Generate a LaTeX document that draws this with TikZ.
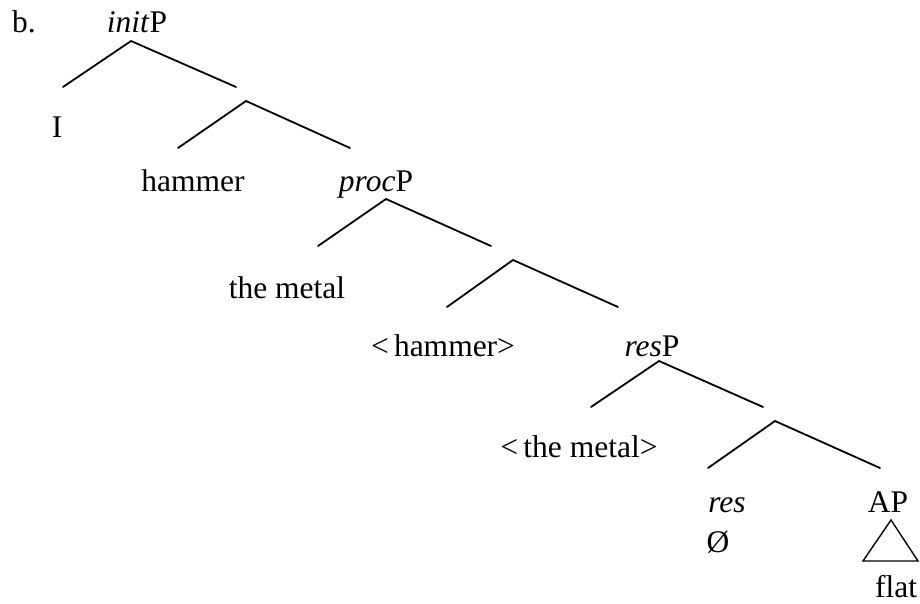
\documentclass[tikz,border=0pt]{standalone}
\usepackage{fontspec}
\setmainfont{Liberation Serif}
\begin{document}
\begin{tikzpicture}[x=1pt,y=-1pt,
  lbl/.style={anchor=base,inner sep=0pt,font=\fontsize{31.5}{36}\selectfont},
  br/.style={line width=1.8pt,line cap=round}]
\useasboundingbox (0,0) rectangle (920,604);
% labels
\node[lbl,anchor=base west] (b) at (12,33) {b.};
\node[lbl] (initP) at (137,33) {\textit{init}P};
\node[lbl] (I) at (57,138) {I};
\node[lbl] (hammer) at (193,192) {hammer};
\node[lbl] (procP) at (376,192) {\textit{proc}P};
\node[lbl] (metal) at (287,298) {the metal};
\node[lbl] (thammer) at (443,356) {<\thinspace hammer>};
\node[lbl] (resP) at (652,356) {\textit{res}P};
\node[lbl] (tmetal) at (579,457) {<\thinspace the metal>};
\node[lbl] (res) at (727,512) {\textit{res}};
\node[lbl] (AP) at (888,512) {AP};
\node[lbl] (null) at (718,552) {Ø};
\node[lbl] (flat) at (896,597) {flat};
% tree coordinates
\coordinate (a1) at (131,41);  \coordinate (l1) at (63,87);  \coordinate (r1) at (236,87);
\coordinate (a2) at (246,101); \coordinate (l2) at (178,148); \coordinate (r2) at (350,148);
\coordinate (a3) at (386,199); \coordinate (l3) at (318,246); \coordinate (r3) at (491,246);
\coordinate (a4) at (513,260); \coordinate (l4) at (447,307); \coordinate (r4) at (618,307);
\coordinate (a5) at (659,361); \coordinate (l5) at (591,407); \coordinate (r5) at (763,407);
\coordinate (a6) at (775,421); \coordinate (l6) at (708,468); \coordinate (r6) at (880,468);
\coordinate (t1) at (891,520); \coordinate (t2) at (863,561); \coordinate (t3) at (918,561);
\foreach \i in {1,...,6}{
  \draw[br] (l\i) -- (a\i) -- (r\i);
}
\draw[line width=1.4pt,line join=miter] (t1) -- (t2) -- (t3) -- cycle;
\end{tikzpicture}
\end{document}
